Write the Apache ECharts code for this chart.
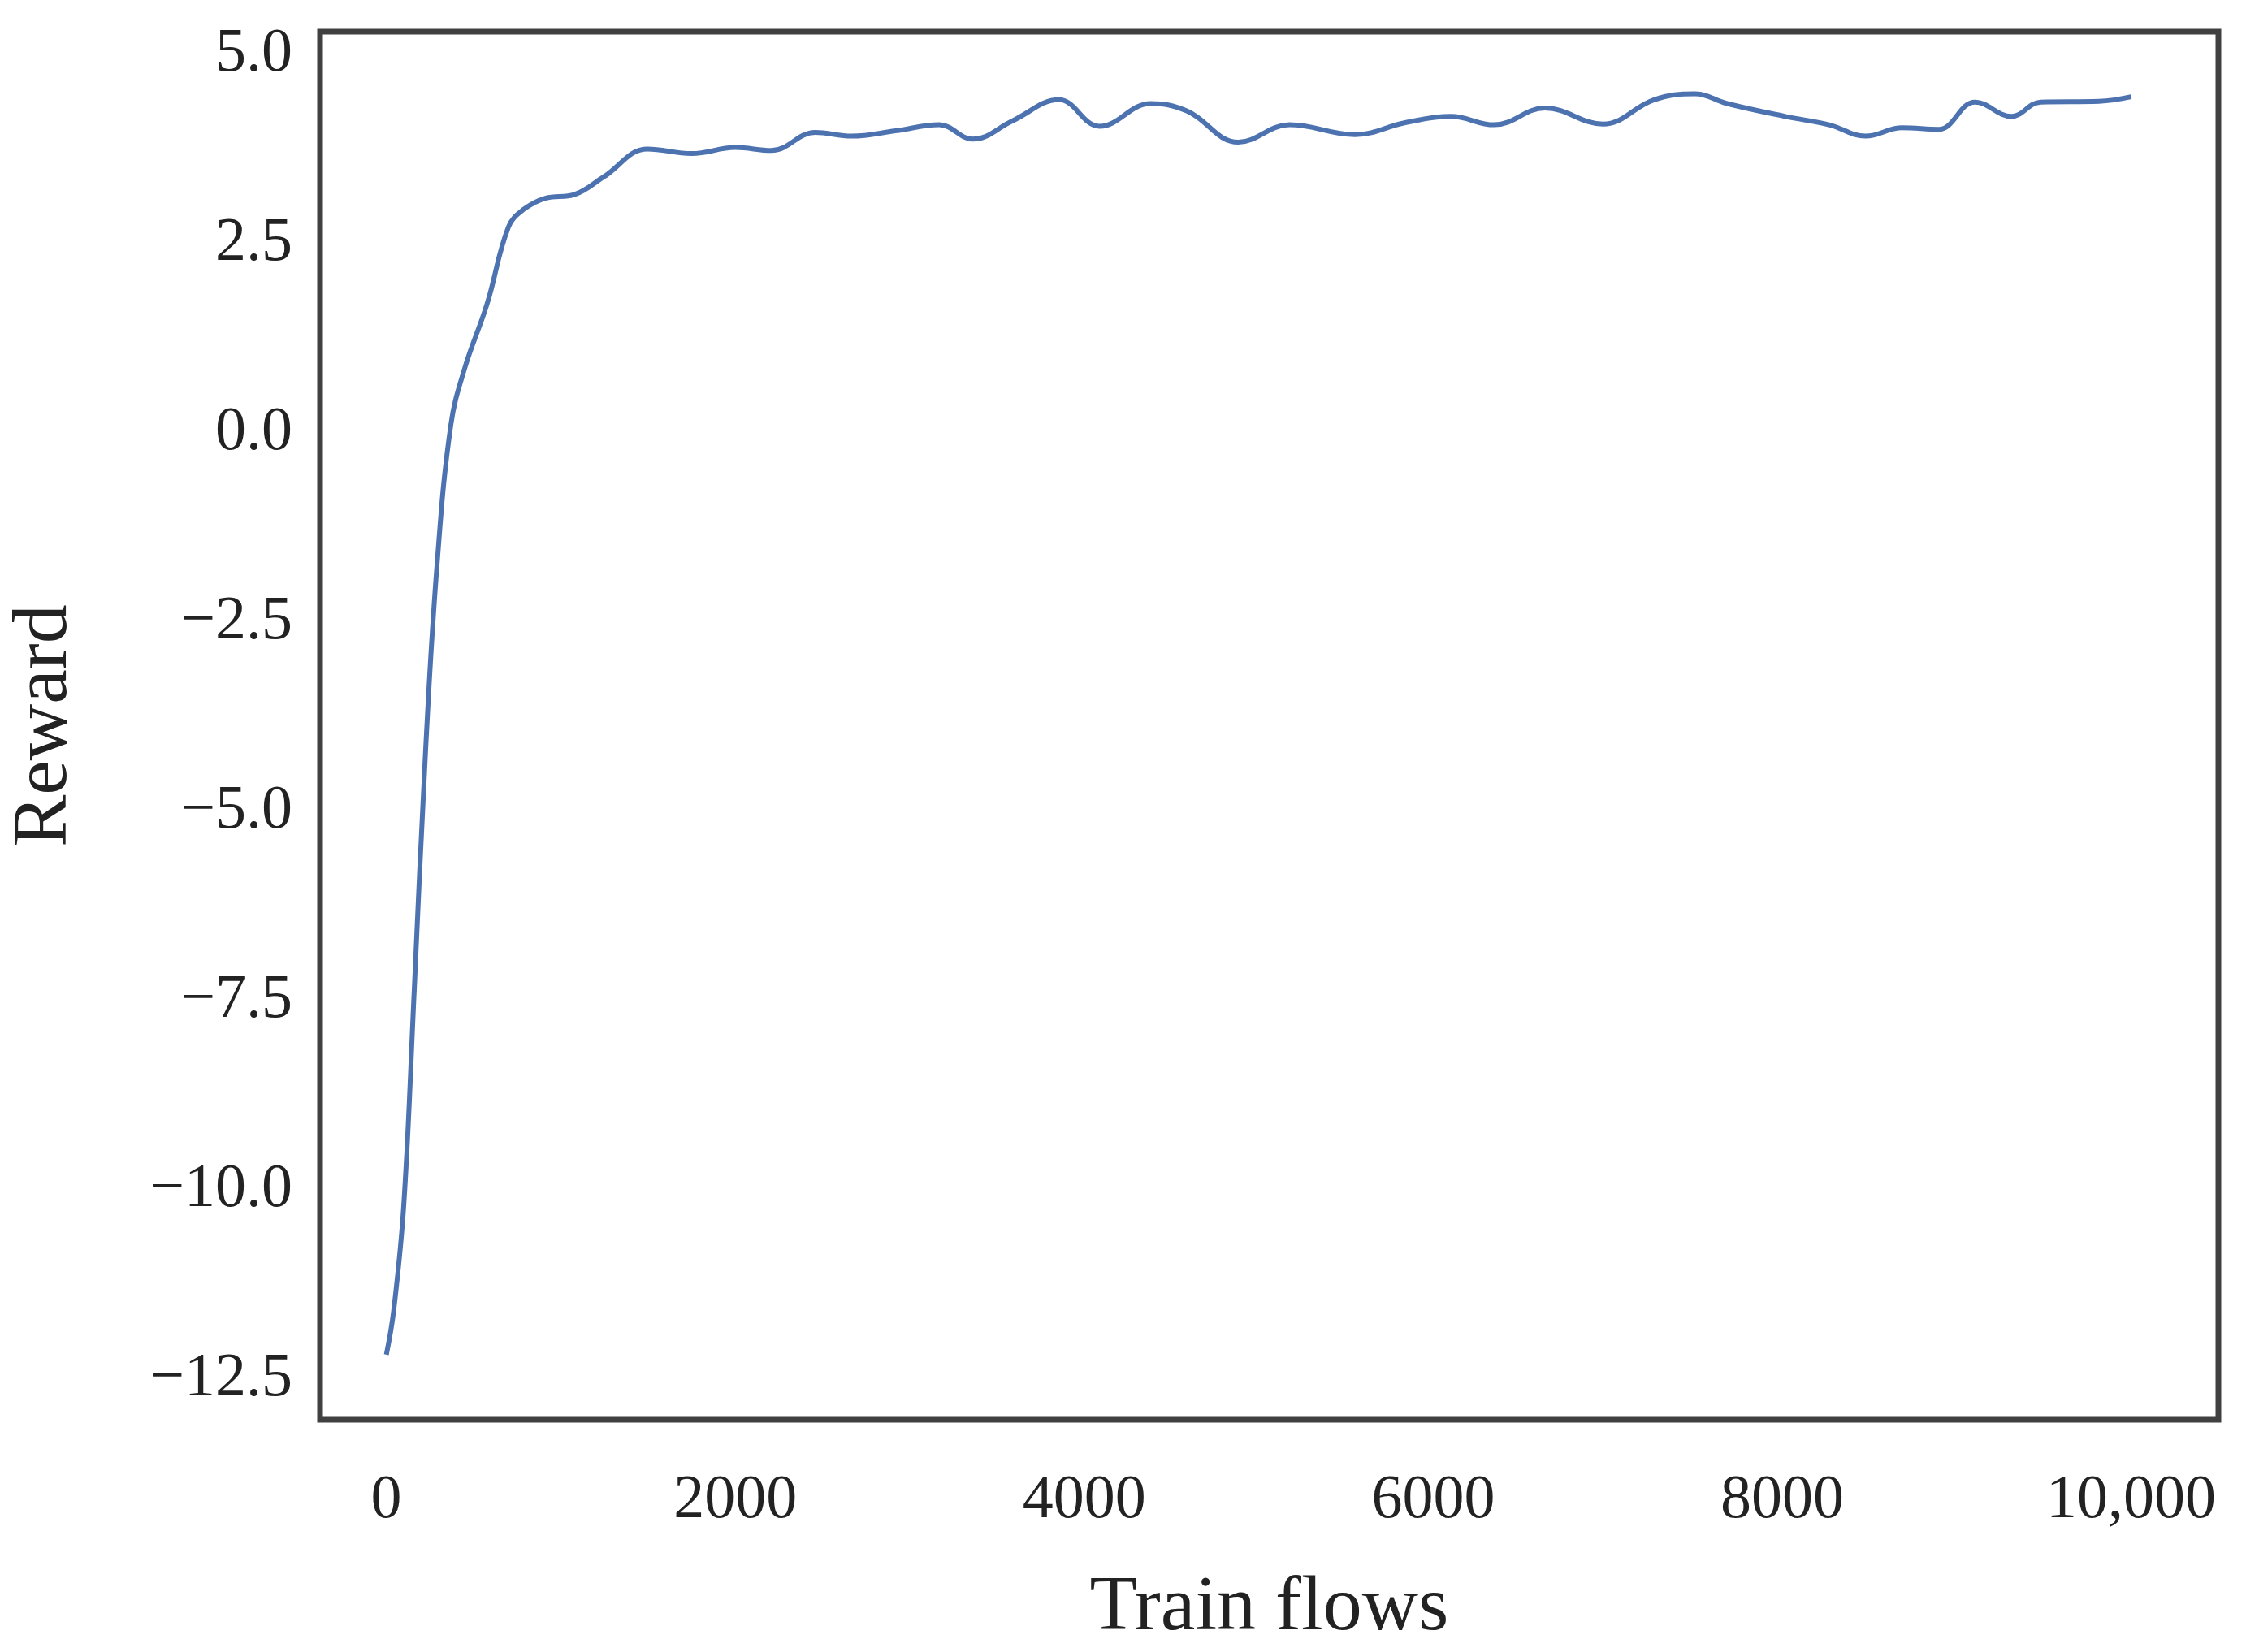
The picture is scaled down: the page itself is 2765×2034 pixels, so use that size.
<!DOCTYPE html>
<html><head><meta charset="utf-8">
<script src="https://cdn.jsdelivr.net/npm/echarts@6/dist/echarts.min.js"></script>
<style>html,body{margin:0;padding:0;background:#fff}#c{width:2765px;height:2034px}</style>
</head><body><div id="c"></div>
<script>
const flows = [0,42,100,160,225,290,370,450,577,700,786,911,1080,1245,1497,1750,2000,2207,2458,2667,2918,3169,3361,3587,3855,4088,4381,4590,4883,5176,5552,5845,6100,6350,6640,6973,7266,7500,7684,8018,8269,8478,8687,8896,9105,9314,9482,9816,10000];
const reward = [-12.18,-11.6,-10.2,-7.36,-4.19,-1.76,0.11,0.86,1.7,2.72,2.95,3.1,3.15,3.38,3.75,3.69,3.77,3.73,3.97,3.92,3.99,4.07,3.88,4.12,4.4,4.05,4.35,4.25,3.84,4.07,3.94,4.1,4.18,4.07,4.29,4.08,4.4,4.48,4.35,4.18,4.07,3.92,4.03,4.01,4.37,4.18,4.37,4.38,4.44];
const xTicks = [0,2000,4000,6000,8000,10000];
const yTicks = [-12.5,-10,-7.5,-5,-2.5,0,2.5,5];
const font = 'Liberation Serif';
const chart = echarts.init(document.getElementById('c'));
chart.setOption({
  animation:false,
  grid:{left:378,right:34,top:39,bottom:265,show:true,borderColor:'#404040',borderWidth:7,backgroundColor:'#fff'},
  xAxis:{type:'value',min:-380,max:10500,
    customValues:xTicks,
    axisLine:{show:false},axisTick:{show:false},splitLine:{show:false},
    axisLabel:{customValues:xTicks,margin:62,fontFamily:font,fontSize:76,color:'#222',
      formatter:v=>v===10000?'10,000':String(v)},
    name:'Train flows',nameLocation:'middle',nameGap:185,
    nameTextStyle:{fontFamily:font,fontSize:96,color:'#222'}},
  yAxis:{type:'value',min:-13.04,max:5.3,
    axisLine:{show:false},axisTick:{show:false},splitLine:{show:false},
    axisLabel:{customValues:yTicks,margin:34,fontFamily:font,fontSize:76,color:'#222',
      formatter:v=>(v<0?'\u2212':'')+Math.abs(v).toFixed(1)},
    name:'Reward',nameLocation:'middle',nameGap:290,
    nameTextStyle:{fontFamily:font,fontSize:96,color:'#222'}},
  series:[{type:'line',data:flows.map((x,i)=>[x,reward[i]]),smooth:0.4,showSymbol:false,
    lineStyle:{color:'#4C72B0',width:6}}]
});
</script></body></html>
